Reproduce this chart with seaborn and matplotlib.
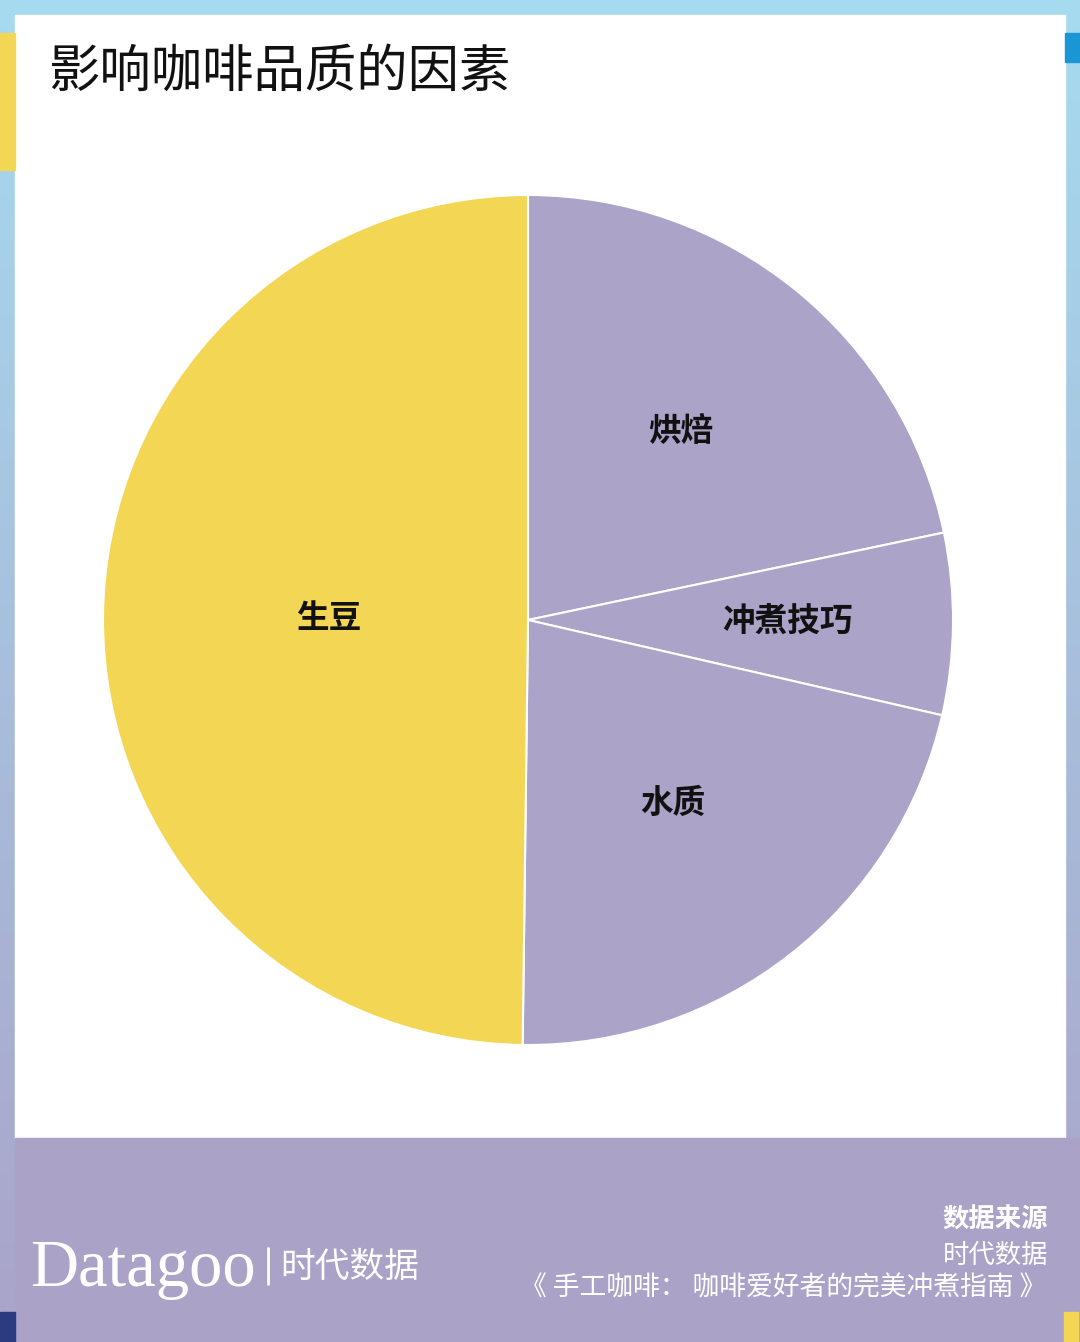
import numpy as np
import matplotlib.pyplot as plt
import matplotlib.colors as mcolors
from matplotlib.patches import Rectangle
import seaborn as sns

# Data (percent shares)
factors = ["烘焙", "冲煮技巧", "水质", "生豆"]
shares = [21.7, 6.9, 21.6, 49.8]
slice_colors = ["#aba3c8", "#aba3c8", "#aba3c8", "#f2d654"]
label_radius = [0.57, 0.61, 0.55, 0.47]

title = "影响咖啡品质的因素"
source_head = "数据来源"
source_lines = ["时代数据", "《 手工咖啡： 咖啡爱好者的完美冲煮指南 》"]

sns.set_style("white")
plt.rcParams["font.family"] = ["Noto Sans CJK SC", "DejaVu Sans"]

W, H = 1080, 1342
fig = plt.figure(figsize=(W / 100, H / 100), dpi=100)

# ----------- background frame with vertical gradient -------------
bg = fig.add_axes([0, 0, 1, 1])
bg.set_xlim(0, W)
bg.set_ylim(H, 0)
bg.axis("off")
grad = mcolors.LinearSegmentedColormap.from_list("frame", ["#a6dbef", "#aaa3c9"])
bg.imshow(np.linspace(0, 1, 256).reshape(-1, 1), cmap=grad, aspect="auto",
          extent=[0, W, H, 0], zorder=0)

# white panel + purple footer band
bg.add_patch(Rectangle((15, 15), 1050, 1123, color="white", zorder=1))
bg.add_patch(Rectangle((15, 1138), 1065, 204, color="#aaa2c7", zorder=1))

# small accent strips on the frame
bg.add_patch(Rectangle((0, 33), 15, 137, color="#f2d654", zorder=2))
bg.add_patch(Rectangle((1065, 33), 15, 29, color="#1a96d4", zorder=2))
bg.add_patch(Rectangle((0, 1312), 15, 30, color="#2c3a80", zorder=2))
bg.add_patch(Rectangle((1064, 1312), 14, 30, color="#f2d654", zorder=2))

# title
bg.text(48, 72, title, fontsize=37, color="#111111", va="center", ha="left", zorder=3)

# footer texts
bg.text(1048, 1220, source_head, fontsize=19, fontweight="bold", color="white",
        ha="right", va="center", zorder=3)
bg.text(1048, 1255, source_lines[0], fontsize=19, color="white",
        ha="right", va="center", zorder=3)
bg.text(1046, 1288, source_lines[1], fontsize=19.3, color="white",
        ha="right", va="center", zorder=3)

bg.text(30, 1286, "Datagoo", fontsize=48, family="Liberation Serif", color="white",
        ha="left", va="baseline", zorder=3)
bg.plot([268, 268], [1248, 1284], color="white", lw=2, zorder=3)
bg.text(280, 1267, "时代数据", fontsize=25, color="white",
        ha="left", va="center", zorder=3)

# ----------- pie -------------
cx, cy, r = 528, 620, 425
ax = fig.add_axes([(cx - r) / W, (H - cy - r) / H, 2 * r / W, 2 * r / H])
wedges, _ = ax.pie(shares, colors=slice_colors, startangle=90, counterclock=False,
                   wedgeprops={"edgecolor": "white", "linewidth": 1.5})
ax.set_xlim(-1, 1)
ax.set_ylim(-1, 1)
ax.set_aspect("equal")

for w, name, rad in zip(wedges, factors, label_radius):
    mid = np.deg2rad((w.theta1 + w.theta2) / 2)
    ax.text(rad * np.cos(mid), rad * np.sin(mid), name, fontsize=23.5,
            fontweight="bold", color="#111111", ha="center", va="center")

plt.savefig("out.png", dpi=100)
